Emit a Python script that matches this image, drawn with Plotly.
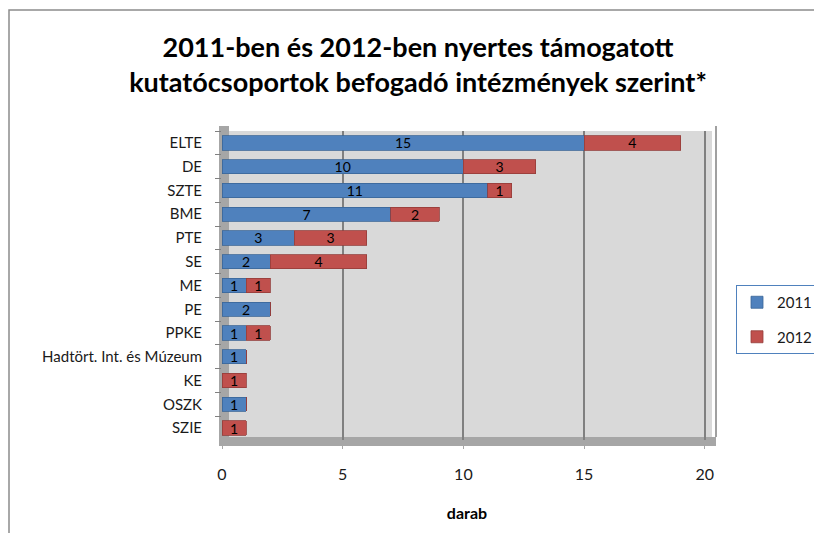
import plotly.graph_objects as go

categories = ["ELTE", "DE", "SZTE", "BME", "PTE", "SE", "ME", "PE", "PPKE",
              "Hadtört. Int. és Múzeum", "KE", "OSZK", "SZIE"]
values_2011 = [15, 10, 11, 7, 3, 2, 1, 2, 1, 1, 0, 1, 0]
values_2012 = [4, 3, 1, 2, 3, 4, 1, 0, 1, 0, 1, 0, 1]
x_ticks = [0, 5, 10, 15, 20]

def labels(vals):
    return [str(v) if v else "" for v in vals]

FONT = "Lato, 'Open Sans', sans-serif"

fig = go.Figure()
fig.add_trace(go.Bar(
    y=categories, x=values_2011, orientation="h", name="2011", legendgroup="g2011",
    marker=dict(color="#4f81bd", line=dict(color="#3a6597", width=0.8)),
    text=labels(values_2011), textposition="inside", insidetextanchor="middle",
    constraintext="none",
    textfont=dict(color="black", size=14, family=FONT), textangle=0,
))
fig.add_trace(go.Bar(
    y=categories, x=values_2012, orientation="h", name="2012", legendgroup="g2012",
    marker=dict(color="#c0504d", line=dict(color="#943c3a", width=0.8)),
    text=labels(values_2012), textposition="inside", insidetextanchor="middle",
    constraintext="none",
    textfont=dict(color="black", size=14, family=FONT), textangle=0,
))

# page body has an 8px margin: figure coords = reference coords - 8
OFF = 8
W, H = 822 - OFF, 533 - OFF
L, R, T, B = 222 - OFF, 712 - OFF, 131 - OFF, 440 - OFF
pw, ph = R - L, B - T

def px(xr):
    return (xr - OFF - L) / pw

def py(yr):
    return (B - (yr - OFF)) / ph

shapes = [
    # outer frame
    dict(type="rect", xref="paper", yref="paper", x0=px(9), x1=px(840), y0=py(10), y1=py(560),
         line=dict(color="#8c8c8c", width=1.5), fillcolor="rgba(0,0,0,0)", layer="below"),
    # floor
    dict(type="rect", xref="paper", yref="paper", x0=px(219), x1=px(716), y0=py(446), y1=py(437),
         line=dict(width=0), fillcolor="#a6a6a6", layer="below"),
    # left wall
    dict(type="rect", xref="paper", yref="paper", x0=px(219), x1=px(229), y0=py(446), y1=py(126),
         line=dict(width=0), fillcolor="#a6a6a6", layer="below"),
    # right edge of back wall
    dict(type="line", xref="paper", yref="paper", x0=px(716), x1=px(716), y0=py(437), y1=py(126),
         line=dict(color="#808080", width=1.5)),
]

fig.update_layout(
    width=W, height=H,
    barmode="stack", bargap=0.4,
    uniformtext=dict(minsize=14, mode="show"),
    paper_bgcolor="white", plot_bgcolor="#d9d9d9",
    margin=dict(l=L, r=W - R, t=T, b=H - B, autoexpand=False),
    font=dict(family=FONT, color="#1a1a1a"),
    title=dict(
        text="2011-ben és 2012-ben nyertes támogatott<br>kutatócsoportok befogadó intézmények szerint*",
        x=(418 - OFF) / W, xanchor="center", y=1 - (57 - OFF) / H, yanchor="middle",
        font=dict(size=27, family=FONT, color="black", weight="bold"),
    ),
    xaxis=dict(
        range=[0, 20.3], tickvals=x_ticks, ticktext=[str(t) for t in x_ticks],
        showgrid=True, gridcolor="#808080", gridwidth=1.5, zeroline=False,
        ticks="outside", ticklen=8, tickcolor="#a6a6a6", ticklabelstandoff=12,
        tickfont=dict(size=16, color="#1a1a1a"), automargin=False,
        title=dict(text="<b>darab</b>", font=dict(size=16, color="black"), standoff=25),
        showline=False,
    ),
    yaxis=dict(
        autorange="reversed", tickson="boundaries", ticks="outside", ticklen=6,
        tickcolor="#808080", tickfont=dict(size=15, color="#1a1a1a"), automargin=False,
        showgrid=False, showline=False, ticklabelstandoff=19,
    ),
    legend=dict(
        x=px(736), xanchor="left", y=py(285), yanchor="top",
        bordercolor="#4f81bd", borderwidth=1, bgcolor="white",
        font=dict(size=15, color="#1a1a1a"), traceorder="grouped",
        itemwidth=30, tracegroupgap=12,
    ),
    shapes=shapes,
)

fig.write_html("out.html")
